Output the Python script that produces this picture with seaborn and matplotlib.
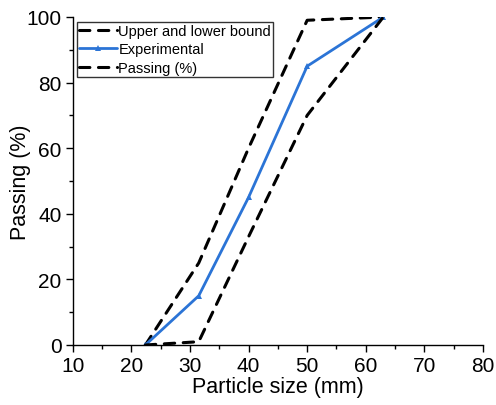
import matplotlib
matplotlib.use("Agg")
import matplotlib.pyplot as plt
from matplotlib.ticker import MultipleLocator
import seaborn as sns
import pandas as pd

# sieve sizes (mm) and passing (%)
sizes = [22.4, 31.5, 40, 50, 63]
upper_bound = [0, 25, 60, 99, 100]
experimental = [0, 15, 45, 85, 100]
lower_bound = [0, 1, 33, 70, 100]

sns.set_theme(style="ticks")
plt.rcParams['font.family'] = ['Liberation Sans', 'DejaVu Sans']
plt.rcParams['text.color'] = 'black'
plt.rcParams['axes.labelcolor'] = 'black'

df = pd.DataFrame({'size': sizes, 'upper': upper_bound,
                   'exp': experimental, 'lower': lower_bound})

fig = plt.figure(figsize=(4.96, 4.06), dpi=100)
ax = fig.add_axes([0.1466, 0.1478, 0.8272, 0.8079])

sns.lineplot(data=df, x='size', y='upper', ax=ax, color='black', lw=2.2,
             label='Upper and lower bound')
ax.lines[-1].set_dashes([3.4, 2.8])
ax.lines[-1].set_dash_capstyle('round')
sns.lineplot(data=df, x='size', y='exp', ax=ax, color='#2b74d6', lw=2.0,
             marker='^', markersize=4, markeredgewidth=0, label='Experimental')
sns.lineplot(data=df, x='size', y='lower', ax=ax, color='black', lw=2.2,
             label='Passing (%)')
ax.lines[-1].set_dashes([3.4, 2.8])
ax.lines[-1].set_dash_capstyle('round')

ax.set_xlim(10, 80)
ax.set_ylim(0, 100)
ax.xaxis.set_major_locator(MultipleLocator(10))
ax.xaxis.set_minor_locator(MultipleLocator(5))
ax.yaxis.set_major_locator(MultipleLocator(20))
ax.yaxis.set_minor_locator(MultipleLocator(10))
ax.tick_params(which='major', direction='out', length=5, width=1,
               labelsize=15, colors='black', pad=3)
ax.tick_params(which='minor', direction='out', length=3, width=1, colors='black')
ax.set_xlabel('Particle size (mm)', fontsize=15.5, labelpad=1, color='black')
ax.set_ylabel('Passing (%)', fontsize=15.5, labelpad=-3, color='black')
sns.despine(ax=ax)
for s in ['left', 'bottom']:
    ax.spines[s].set_linewidth(1)
    ax.spines[s].set_color('black')

leg = ax.legend(loc='upper left', bbox_to_anchor=(0.01, 0.985), fontsize=10.5,
                frameon=True, fancybox=False, edgecolor='black',
                handlelength=2.6, handletextpad=0.1, borderpad=0.15,
                labelspacing=0.3, borderaxespad=0)
leg.get_frame().set_linewidth(1)
for t in leg.get_texts():
    t.set_color('black')

fig.savefig('out.png', dpi=100)
